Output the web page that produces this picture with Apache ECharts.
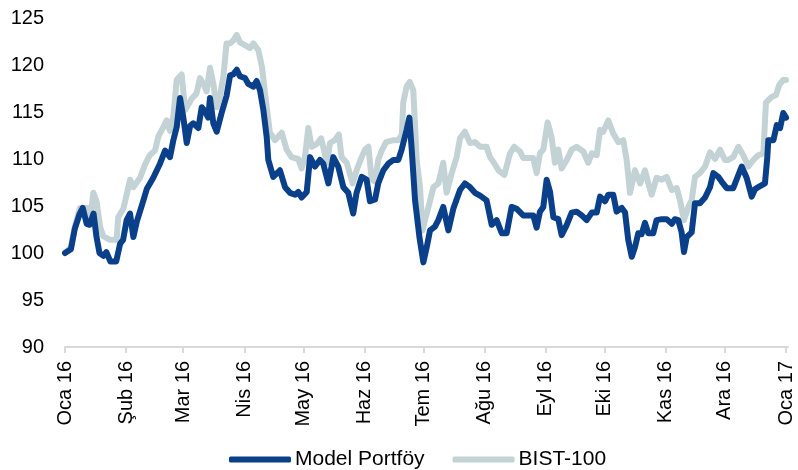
<!DOCTYPE html>
<html>
<head>
<meta charset="utf-8">
<script src="https://cdn.jsdelivr.net/npm/echarts@6/dist/echarts.min.js"></script>
<style>html,body{margin:0;padding:0;background:#fff;}#c{width:798px;height:470px;}</style>
</head>
<body>
<div id="c"></div>
<script>
// x = days since 1 Jan 2016
const monthStarts = [0, 31, 60, 91, 121, 152, 182, 213, 244, 274, 305, 335, 366];
const monthLabels = ['Oca 16','Şub 16','Mar 16','Nis 16','May 16','Haz 16','Tem 16','Ağu 16','Eyl 16','Eki 16','Kas 16','Ara 16','Oca 17'];
const yTicks = [90, 95, 100, 105, 110, 115, 120, 125];

const modelDays = [0,3,5,7.5,9,11,12.5,14.5,16,17.5,19.5,21,23,26,28,29.5,31.3,33,34.7,36.4,39.8,41.5,44.8,48.2,50.8,53.3,55,56.7,58.4,60,61.8,63.5,65.1,67.7,69.4,71,72.7,73.6,75.3,77,79.5,82,83.8,85.4,87.2,88.8,91.4,93,95.6,97.3,99,100.7,102.4,103.2,105.7,109.1,111.7,114.2,116.8,118.4,120.1,122.7,124.4,126.9,129.4,131.1,133.7,136.2,138.7,141.3,143.8,146.3,148,150.6,153.1,154.8,157.4,159,161.6,164.1,166.7,169.2,170.9,173.4,174.8,176,177.7,179.9,181.9,183.6,185.3,187.8,189.5,192,194.6,197.1,200.5,203,205.6,208.1,210.7,214,216.6,219.1,221.7,224.2,226.7,229.3,232.6,237.7,239.4,241.1,242.8,244.5,246.2,247.9,250.4,252.1,254.7,257.2,259.7,262.3,264.8,267.4,269.9,271.6,274.1,275.8,278.3,280,282.6,284.3,285.9,287.7,289.3,291,292.7,294.4,296.1,298.6,300.3,302.9,305.4,308,309.6,311.3,313,314.2,315.6,318.1,319.8,322.3,324.9,327.4,329.1,331.6,333.3,335.9,339.2,341.8,343.5,346,348.6,350.3,351.9,355.3,356.5,357,359.6,361.3,363,364.6,366];
const modelValues = [100.0,100.4,102.6,104.2,104.8,103.1,103.0,104.2,101.7,100.0,99.7,100.1,99.1,99.1,101.0,101.4,103.5,104.2,101.7,103.3,105.6,106.8,108.0,109.5,110.9,110.2,112.0,113.4,116.5,114.5,111.7,113.5,113.8,113.3,115.5,115.1,114.4,116.5,113.8,112.9,114.9,116.7,118.9,119.0,119.5,118.8,118.6,118.0,117.7,118.3,117.3,115.2,112.3,109.9,108.1,108.8,107.0,106.4,106.2,106.5,105.9,106.5,110.2,109.2,109.9,109.5,107.4,110.2,109.2,107.0,106.4,104.2,106.4,108.1,107.8,105.5,105.7,107.4,108.8,109.5,109.9,109.9,111.0,113.1,114.4,111.0,105.6,101.7,99.0,100.6,102.4,102.8,103.5,104.9,102.4,104.7,106.7,107.4,107.0,106.4,106.1,105.6,103.0,103.5,102.1,102.1,104.9,104.7,104.0,104.0,102.7,104.4,104.9,107.8,106.5,103.8,103.6,101.9,103.0,104.3,104.4,104.0,103.5,104.3,104.3,106.0,105.5,106.2,106.2,104.4,104.8,104.3,101.4,99.6,100.6,102.1,102.0,103.2,102.1,102.1,103.5,103.6,103.6,103.1,103.6,103.5,102.2,100.1,101.7,102.2,105.3,105.3,105.9,107.0,108.5,108.1,107.6,106.9,106.9,108.3,109.2,108.0,106.0,106.8,107.0,107.4,110.2,112.0,112.0,113.6,113.3,114.9,114.4];

const bistDays = [0,3,5,7.6,11.8,12.7,14.4,16,17.8,19.4,22.8,26.2,27,29.6,31.3,33,34.7,38.1,40.6,43,45.7,47.4,49.9,51.6,53.3,55,56.7,59.2,61,64.3,66.8,68.5,70.2,71.9,73.6,75.3,77,78.7,80.4,82,83.8,85.4,87.2,88.8,92.2,93.9,95.6,98.1,100,101.5,104,106.6,110,112.5,115,118.4,120.1,121.8,123.5,125.2,127.8,130,133,134.5,137,139,140.4,143,146,148,150.6,152.3,154,155.7,157.4,159,160.8,163,166.7,169.2,171,171.7,173.4,175,176.8,178.5,180.2,181.5,182.7,185,187,189.5,192,193.7,196.3,198.8,200.5,203,205.6,208.1,210.7,214,215.7,217.4,220,223,225.9,228,231,232.6,237.7,239.4,241.1,242.8,245,247,248.7,250.4,252.1,254.7,257.2,259.7,263.1,265.6,267.4,269.9,271.6,273.2,275.8,278.3,280.9,283.4,285.1,286.8,289.3,291.9,294.4,296.1,297.8,300.3,302.9,305.4,308,310.5,312.2,314.2,316.4,318.1,319.8,322.3,324.9,327.4,330,332.5,335,336.7,339.2,341.8,344.3,346.9,349.4,351.9,354.5,355.8,358.7,360.9,362.6,364.6,366];
const bistValues = [100.0,100.6,102.8,104.8,104.8,103.5,106.4,105.5,102.8,101.8,101.4,101.4,103.8,104.7,106.2,107.8,107.0,108.0,109.4,110.4,110.9,112.4,113.4,114.1,113.0,114.5,118.4,119.0,115.2,116.4,117.0,118.6,118.0,117.2,119.7,118.0,115.5,116.7,118.8,122.3,122.3,122.6,123.2,122.4,122.0,121.8,122.3,121.6,119.8,117.0,112.8,112.0,112.8,111.0,110.2,110.0,109.0,110.2,113.3,111.3,111.6,112.2,109.6,111.7,112.0,112.6,110.2,109.6,107.4,108.8,110.2,111.0,111.3,107.8,107.6,109.9,110.9,111.8,112.0,112.0,112.6,116.0,117.7,118.2,117.3,109.9,107.0,102.4,103.5,105.3,107.0,107.4,109.6,106.4,108.5,110.2,112.2,112.9,111.7,111.8,111.3,111.3,110.2,109.7,108.8,108.3,110.6,111.3,110.8,110.1,110.1,108.5,110.6,111.0,113.9,112.3,109.6,111.0,109.0,109.9,111.0,111.3,110.8,109.6,110.6,110.4,113.1,112.9,114.1,112.7,111.8,112.0,109.9,106.4,108.8,107.4,108.8,107.4,106.2,108.0,107.8,108.1,106.7,106.9,105.6,103.5,104.9,105.6,108.1,108.5,109.2,110.7,110.0,111.0,109.9,109.9,110.2,111.3,110.4,109.2,109.9,110.4,110.6,116.0,116.6,116.8,117.9,118.4,118.4];

const modelData = modelDays.map((d, i) => [d, modelValues[i]]);
const bistData = bistDays.map((d, i) => [d, bistValues[i]]);

const FONT = '"Liberation Sans", Arial, sans-serif';
const chart = echarts.init(document.getElementById('c'), null, {renderer: 'canvas'});
chart.setOption({
  animation: false,
  backgroundColor: '#ffffff',
  grid: {left: 65, right: 10, top: 18, bottom: 123, containLabel: false},
  xAxis: {
    type: 'value',
    min: 0,
    max: 367,
    splitLine: {show: false},
    axisLine: {show: true, lineStyle: {color: '#d9d9d9', width: 2}},
    axisTick: {show: true, length: 6, lineStyle: {color: '#d9d9d9', width: 2}, customValues: monthStarts},
    axisLabel: {
      customValues: monthStarts,
      rotate: 90,
      margin: 14,
      fontSize: 20,
      fontFamily: FONT,
      color: '#000',
      formatter: function (v) { const i = monthStarts.indexOf(v); return i >= 0 ? monthLabels[i] : ''; }
    }
  },
  yAxis: {
    type: 'value',
    min: yTicks[0],
    max: yTicks[yTicks.length - 1],
    interval: 5,
    splitLine: {show: false},
    axisLine: {show: false},
    axisTick: {show: false},
    axisLabel: {fontSize: 20, fontFamily: FONT, color: '#000', margin: 21}
  },
  legend: {
    data: ['Model Portföy', 'BIST-100'],
    top: 444,
    left: 224,
    icon: 'roundRect',
    itemWidth: 62,
    itemHeight: 6,
    itemGap: 28,
    textStyle: {fontSize: 21, fontFamily: FONT, color: '#000', padding: [0, 0, 0, -1]}
  },
  series: [
    {
      name: 'BIST-100',
      type: 'line',
      data: bistData,
      showSymbol: false,
      symbol: 'none',
      color: '#c3d2d5',
      lineStyle: {width: 6, color: '#c3d2d5', cap: 'round', join: 'round'},
      z: 2
    },
    {
      name: 'Model Portföy',
      type: 'line',
      data: modelData,
      showSymbol: false,
      symbol: 'none',
      color: '#0a3f8a',
      lineStyle: {width: 6, color: '#0a3f8a', cap: 'round', join: 'round'},
      z: 3
    }
  ]
});
</script>
</body>
</html>
